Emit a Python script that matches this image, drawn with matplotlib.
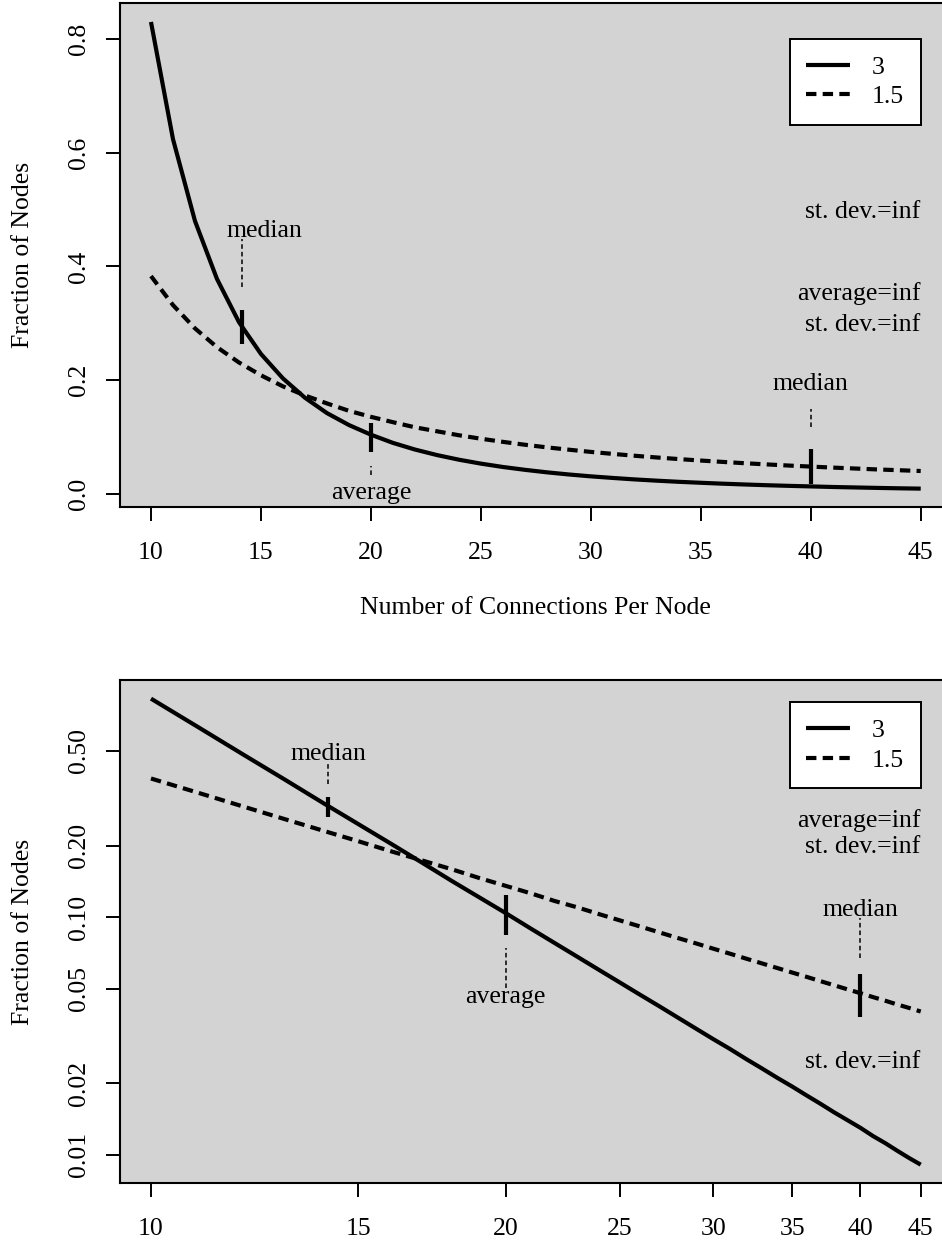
import math
import matplotlib.pyplot as plt
from matplotlib.ticker import FixedLocator, NullLocator

plt.rcParams['font.family'] = ['Liberation Serif', 'DejaVu Serif']

# number of connections per node
degree = [10, 11, 12, 13, 14, 15, 16, 17, 18, 19, 20, 21, 22, 23, 24, 25, 26, 27,
          28, 29, 30, 31, 32, 33, 34, 35, 36, 37, 38, 39, 40, 41, 42, 43, 44, 45]
# fraction of nodes, exponent 3 (solid)
frac_3 = [0.830, 0.624, 0.480, 0.378, 0.302, 0.246, 0.203, 0.169, 0.142, 0.121,
          0.104, 0.0896, 0.0779, 0.0682, 0.0600, 0.0531, 0.0472, 0.0422, 0.0378,
          0.0340, 0.0307, 0.0279, 0.0253, 0.0231, 0.0211, 0.0194, 0.0178, 0.0164,
          0.0151, 0.0140, 0.0130, 0.0120, 0.0112, 0.0104, 0.0097, 0.0091]
# fraction of nodes, exponent 1.5 (dashed)
frac_15 = [0.383, 0.332, 0.291, 0.258, 0.231, 0.2085, 0.189, 0.173, 0.159, 0.146,
           0.1354, 0.126, 0.117, 0.110, 0.103, 0.0969, 0.0914, 0.0863, 0.0817,
           0.0776, 0.0737, 0.0702, 0.0669, 0.0639, 0.0611, 0.0585, 0.0561, 0.0538,
           0.0517, 0.0497, 0.0479, 0.0461, 0.0445, 0.0429, 0.0415, 0.0401]
series_labels = ['3', '1.5']

# median / average / median markers
mark_x = [14.14, 20, 40]
mark_lo = {'lin': [0.2635, 0.0732, 0.0164], 'log': [0.265, 0.0842, 0.0379]}
mark_hi = {'lin': [0.3235, 0.1237, 0.0782], 'log': [0.321, 0.1237, 0.0579]}
guide_lo = {'lin': [0.3632, 0.0323, 0.117], 'log': [0.3642, 0.0506, 0.0676]}
guide_hi = {'lin': [0.4485, 0.0482, 0.149], 'log': [0.4451, 0.0744, 0.0993]}
mark_names = ['median', 'average', 'median']
name_x = {'lin': [15.14, 20, 40], 'log': [14.14, 20, 40]}
name_y = {'lin': [0.462, 0.001, 0.193], 'log': [0.485, 0.0462, 0.1075]}

# stats text, right aligned at x=45
stat_text = ['st. dev.=inf', 'average=inf', 'st. dev.=inf']
stat_y = {'lin': [0.496, 0.353, 0.297], 'log': [0.0247, 0.256, 0.197]}

fs = 18.5
W, H = 942, 1243
fig = plt.figure(figsize=(W / 100, H / 100), dpi=100)
ax1 = fig.add_axes([120.2 / W, 1 - 507.3 / H, 831.3 / W, 504.0 / H])
ax2 = fig.add_axes([120.2 / W, 1 - 1183.3 / H, 831.3 / W, 503.3 / H])


def draw_panel(ax, mode):
    ax.set_facecolor('#d3d3d3')
    l1, = ax.plot(degree, frac_3, color='black', lw=3.0, solid_capstyle='butt',
                  label=series_labels[0])
    l2, = ax.plot(degree, frac_15, color='black', lw=3.0, dashes=(2.5, 1.5),
                  label=series_labels[1])
    if mode == 'log':
        ax.set_xscale('log')
        ax.set_yscale('log')
    for i in range(3):
        ax.plot([mark_x[i], mark_x[i]], [mark_lo[mode][i], mark_hi[mode][i]],
                color='black', lw=3.0, solid_capstyle='butt')
        ax.plot([mark_x[i], mark_x[i]], [guide_lo[mode][i], guide_hi[mode][i]],
                color='black', lw=1.1, dashes=(3, 2))
        ax.text(name_x[mode][i], name_y[mode][i], mark_names[i], fontsize=fs,
                ha='center', va='center')
    for s, y in zip(stat_text, stat_y[mode]):
        ax.text(45, y, s, fontsize=fs, ha='right', va='center')

    # axis limits: data range plus 4% each side (in display scale)
    xs = degree
    ys = frac_3 + frac_15
    if mode == 'log':
        lx = [math.log10(v) for v in xs]
        ly = [math.log10(v) for v in ys]
        dx = (max(lx) - min(lx)) * 0.04
        dy = (max(ly) - min(ly)) * 0.04
        ax.set_xlim(10 ** (min(lx) - dx), 10 ** (max(lx) + dx))
        ax.set_ylim(10 ** (min(ly) - dy), 10 ** (max(ly) + dy))
        ax.xaxis.set_major_locator(FixedLocator([10, 15, 20, 25, 30, 35, 40, 45]))
        ax.xaxis.set_minor_locator(NullLocator())
        ax.set_xticklabels(['10', '15', '20', '25', '30', '35', '40', '45'])
        ax.yaxis.set_major_locator(FixedLocator([0.01, 0.02, 0.05, 0.1, 0.2, 0.5]))
        ax.yaxis.set_minor_locator(NullLocator())
        ax.set_yticklabels(['0.01', '0.02', '0.05', '0.10', '0.20', '0.50'])
    else:
        dx = (max(xs) - min(xs)) * 0.04
        dy = (max(ys) - min(ys)) * 0.04
        ax.set_xlim(min(xs) - dx, max(xs) + dx)
        ax.set_ylim(min(ys) - dy, max(ys) + dy)
        ax.set_xticks([10, 15, 20, 25, 30, 35, 40, 45])
        ax.set_yticks([0.0, 0.2, 0.4, 0.6, 0.8])
        ax.set_yticklabels(['0.0', '0.2', '0.4', '0.6', '0.8'])

    for sp in ax.spines.values():
        sp.set_linewidth(1.5)
    ax.tick_params(direction='out', length=9.9, width=1.4, labelsize=fs)
    ax.tick_params(axis='x', pad=15)
    ax.tick_params(axis='y', pad=12)
    for lab in ax.get_yticklabels():
        lab.set_rotation(90)
        lab.set_va('center')
    ax.set_ylabel('Fraction of Nodes', fontsize=fs)
    ax.yaxis.set_label_coords(-0.104, 0.5)

    leg = ax.legend(handles=[l1, l2], loc='upper right', bbox_to_anchor=(45, 0.8),
                    bbox_transform=ax.transData, borderaxespad=0, fontsize=fs,
                    fancybox=False, framealpha=1, edgecolor='black',
                    handlelength=1.7, handletextpad=0.85, labelspacing=0.25,
                    borderpad=0.65)
    leg.get_frame().set_linewidth(1.4)


draw_panel(ax1, 'lin')
draw_panel(ax2, 'log')
ax1.set_xlabel('Number of Connections Per Node', fontsize=fs, labelpad=24)

fig.savefig('out.png', dpi=100)
